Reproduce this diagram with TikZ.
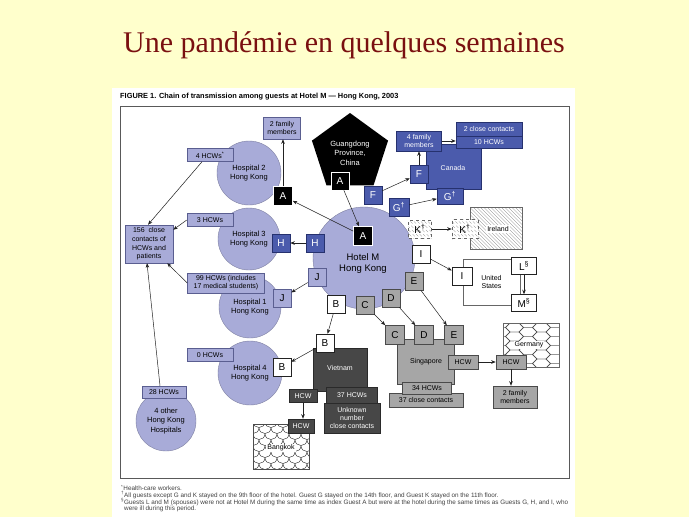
\documentclass[tikz,border=0pt]{standalone}
\usepackage{fontspec}
\setmainfont{Liberation Serif}
\setsansfont{Liberation Sans}
\usetikzlibrary{shapes.geometric,arrows.meta,calc}
\definecolor{bgy}{HTML}{FFFFCC}
\definecolor{titlered}{HTML}{7A1010}
\definecolor{lp}{HTML}{A8ABD8}
\definecolor{lpb}{HTML}{5A5E90}
\definecolor{bl}{HTML}{4B5BAC}
\definecolor{blb}{HTML}{26316E}
\definecolor{gr}{HTML}{A6A6A6}
\definecolor{grb}{HTML}{4A4A4A}
\definecolor{dg}{HTML}{474747}
\definecolor{dgb}{HTML}{2A2A2A}
\definecolor{ln}{HTML}{222222}
\tikzset{
 bx/.style={line width=0.5pt, inner sep=0pt, align=center, font=\fontsize{7}{7.8}\selectfont\sffamily},
 pb/.style={bx, draw=lpb, fill=lp},
 bb/.style={bx, draw=blb, fill=bl, text=white},
 gb/.style={bx, draw=grb, fill=gr},
 db/.style={bx, draw=dgb, fill=dg, text=white},
 wb/.style={bx, draw=ln, fill=white},
 kb/.style={bx, draw=white, fill=black, text=white},
 ltr/.style={minimum width=18pt, minimum height=18pt, font=\fontsize{10}{10}\selectfont\sffamily},
 circ/.style={circle, fill=lp, draw=lp!75!black, line width=0.4pt, inner sep=0pt, align=center, font=\fontsize{7.5}{8.8}\selectfont\sffamily},
 arr/.style={-{Stealth[length=4.5pt,width=3.5pt]}, line width=0.5pt, draw=ln},
 lbl/.style={inner sep=1pt, align=center, font=\fontsize{7}{7.8}\selectfont\sffamily},
 fn/.style={anchor=west, inner sep=0pt, text=black!75, font=\fontsize{6.35}{7}\selectfont\sffamily},
 hatch/.style={path picture={\foreach \k in {-100,-96.5,...,100}{\draw[black!55, line width=0.35pt] ($(path picture bounding box.center)+(\k-50,-50)$) -- ++(100,100);}}},
 scales/.style={path picture={\foreach \j in {0,...,8}{\pgfmathsetmacro{\off}{mod(\j,2)*6}\foreach \i in {-1,...,6}{\draw[black!85, line width=0.4pt] ($(path picture bounding box.north west)+(\i*12+\off,\j*6-3)$) .. controls +(0,8) and +(0,8) .. ++(12,0);}}}},
 honey/.style={path picture={\foreach \i in {0,...,6}{\pgfmathsetmacro{\off}{mod(\i,2)*4.5}\foreach \j in {-1,...,6}{\draw[black!70, line width=0.4pt] ($(path picture bounding box.north west)+(\i*13.5-2,\j*9+\off)$) +(-9,0) -- +(-4.5,-4.5) -- +(4.5,-4.5) -- +(9,0) -- +(4.5,4.5) -- +(-4.5,4.5) -- cycle;}}}}
}
\begin{document}
\begin{tikzpicture}[x=1pt,y=-1pt]
\useasboundingbox (0,0) rectangle (689,517);
\fill[bgy] (0,0) rectangle (689,517);
\fill[white] (112,88) rectangle (575,517);
\draw[black!65, line width=0.6pt] (120,106) rectangle (569,478);

\node[font=\fontsize{30}{32}\selectfont, text=titlered] (title) at (344,45) {Une pandémie en quelques semaines};
\node[anchor=west, inner sep=0pt, font=\bfseries\fontsize{7.4}{8}\selectfont\sffamily] (head) at (120,97) {FIGURE 1. Chain of transmission among guests at Hotel M — Hong Kong, 2003};

% circles
\node[circ, minimum size=64pt] (h2) at (249,173) {Hospital 2\\Hong Kong};
\node[circ, minimum size=62pt] (h3) at (249,239) {Hospital 3\\Hong Kong};
\node[circ, minimum size=62pt] (h1) at (250,307) {Hospital 1\\Hong Kong};
\node[circ, minimum size=64pt] (h4) at (250,373) {Hospital 4\\Hong Kong};
\node[circ, minimum size=60pt, font=\fontsize{7.5}{9.5}\selectfont\sffamily] (hoth) at (166,421) {4 other\\Hong Kong\\Hospitals};
\node[circ, minimum size=102pt] (hotel) at (364,258) {};
\node[lbl, font=\fontsize{9.5}{11}\selectfont\sffamily] (hoteltxt) at (363,264) {Hotel M\\Hong Kong};

% pentagon
\node[regular polygon, regular polygon sides=5, minimum size=80pt, fill=black, inner sep=0pt, text=white, align=center, font=\fontsize{7.5}{9.5}\selectfont\sffamily] (gd) at (350,153) {Guangdong\\Province,\\China};

% purple boxes
\node[pb, minimum width=37pt, minimum height=22pt] (fam2) at (282,128) {2 family\\members};
\node[pb, minimum width=46pt, minimum height=13pt] (hcw4) at (210,155) {4 HCWs\textsuperscript{*}};
\node[pb, minimum width=46pt, minimum height=13pt] (hcw3) at (210,220) {3 HCWs};
\node[pb, minimum width=48pt, minimum height=38pt, font=\fontsize{7}{8.6}\selectfont\sffamily] (c156) at (149,244) {156\ \ close\\contacts of\\HCWs and\\patients};
\node[pb, minimum width=77pt, minimum height=20pt] (hcw99) at (226,283) {99 HCWs (includes\\17 medical students)};
\node[pb, minimum width=46pt, minimum height=13pt] (hcw0) at (210,355) {0 HCWs};
\node[pb, minimum width=44pt, minimum height=12pt] (hcw28) at (164,392) {28 HCWs};

% Canada
\node[bb, minimum width=55pt, minimum height=45pt] (ca) at (454,167) {};
\node[lbl, text=white] (catxt) at (453,168) {Canada};
\node[bb, minimum width=45pt, minimum height=20pt] (fam4) at (419,141) {4 family\\members};
\node[bb, minimum width=66pt, minimum height=14pt] (cc2) at (489,129) {2 close contacts};
\node[bb, minimum width=66pt, minimum height=12pt] (hcw10) at (489,142) {10 HCWs};
\node[bb, ltr] (Fca) at (419,174) {F};
\node[bb, ltr, minimum width=26pt, minimum height=16pt] (Gca) at (450,196) {G\textsuperscript{†}};

% Ireland
\node[bx, fill=white, draw=black!60, hatch, minimum width=52pt, minimum height=42pt] (ie) at (496,228) {};
\node[lbl, fill=white] (ietxt) at (498,229) {Ireland};
\node[bx, ltr, fill=white, draw=black!60, dashed, hatch, minimum width=26pt, minimum height=19pt] (Kie) at (465,229) {K\textsuperscript{†}};

% United States
\node[bx, draw=black!60, minimum width=57pt, minimum height=46pt] (us) at (491.5,282) {United\\States};
\node[wb, ltr, minimum width=20pt] (Ius) at (462,276) {I};
\node[wb, ltr, minimum width=25pt, minimum height=17pt] (Lus) at (524,266) {L\textsuperscript{§}};
\node[wb, ltr, minimum width=25pt, minimum height=17pt] (Mus) at (524,303) {M\textsuperscript{§}};

% Singapore
\node[gb, minimum width=57pt, minimum height=45pt] (sg) at (426,362) {Singapore};
\node[gb, minimum width=74pt, minimum height=14pt] (cc37) at (426,400) {37 close contacts};
\node[gb, minimum width=49pt, minimum height=12pt] (hcw34) at (427,388) {34 HCWs};
\node[gb, minimum width=30pt, minimum height=14pt] (hcwsg) at (463,362) {HCW};
\node[gb, ltr, minimum width=19pt, minimum height=19pt] (Csg) at (395,335) {C};
\node[gb, ltr, minimum width=19pt, minimum height=19pt] (Dsg) at (424,335) {D};
\node[gb, ltr, minimum width=19pt, minimum height=19pt] (Esg) at (454,335) {E};

% Germany
\node[bx, fill=white, draw=black!60, honey, minimum width=56pt, minimum height=44pt] (de) at (531,345) {};
\node[lbl, fill=white] (detxt) at (529,345) {Germany};
\node[gb, minimum width=30pt, minimum height=14pt] (hcwde) at (511,362) {HCW};
\node[gb, minimum width=44pt, minimum height=22pt] (fam2de) at (515,397) {2 family\\members};

% Vietnam
\node[db, minimum width=54pt, minimum height=43pt] (vn) at (340,370) {};
\node[lbl, text=white] (vntxt) at (340,368) {Vietnam};
\node[db, minimum width=51pt, minimum height=16pt] (hcw37) at (352,395) {37 HCWs};
\node[db, minimum width=56pt, minimum height=30pt, font=\fontsize{7}{8.4}\selectfont\sffamily] (unk) at (352,418) {Unknown\\number\\close contacts};
\node[db, minimum width=28pt, minimum height=13pt] (hcwvn) at (303,396) {HCW};

% Bangkok
\node[bx, fill=white, draw=black!70, scales, minimum width=56pt, minimum height=45pt] (bk) at (281,447) {};
\node[lbl, fill=white] (bktxt) at (281,448) {Bangkok};
\node[db, minimum width=26pt, minimum height=14pt] (hcwbk) at (301,426) {HCW};

% letter boxes
\node[kb, ltr, minimum size=19pt] (Ah2) at (283,196) {A};
\node[kb, ltr] (Apg) at (340,181) {A};
\node[kb, ltr, minimum size=19pt] (Ahm) at (363,236) {A};
\node[bb, ltr] (Fhm) at (373,195) {F};
\node[bb, ltr, minimum width=20pt] (Ghm) at (399,207) {G\textsuperscript{†}};
\node[bx, ltr, fill=white, draw=black!60, dashed, hatch, minimum width=23pt] (Khm) at (420,229) {K\textsuperscript{†}};
\node[wb, ltr] (Ihm) at (421,254) {I};
\node[gb, ltr] (Ehm) at (414,281) {E};
\node[gb, ltr] (Dhm) at (391,298) {D};
\node[gb, ltr] (Chm) at (365,305) {C};
\node[wb, ltr] (Bhm) at (336,304) {B};
\node[pb, ltr] (Jhm) at (317,277) {J};
\node[bb, ltr] (Hhm) at (315,243) {H};
\node[bb, ltr] (Hh3) at (281,243) {H};
\node[pb, ltr] (Jh1) at (282,298) {J};
\node[wb, ltr] (Bh4) at (282,367) {B};
\node[wb, ltr] (Bvn) at (325,343) {B};

% connectors
\draw[arr] (Ah2.north) -- (Ah2.north |- fam2.south);
\draw[arr] ([xshift=-8pt]hcw4.south) -- ([xshift=-1pt]c156.north);
\draw[arr] (hcw3.west) -- ([yshift=-5pt]c156.north east);
\draw[arr] (hcw99.west) -- ([xshift=-6pt]c156.south east);
\draw[arr] ([xshift=-4pt]hcw28.north) -- ([xshift=-2pt]c156.south);
\draw[arr] (Apg) -- (Ahm);
\draw[arr] (Ahm) -- (Ah2);
\draw[arr] (Hhm) -- (Hh3);
\draw[arr] (Jhm) -- (Jh1);
\draw[arr] (Bhm) -- (Bvn);
\draw[arr] (Bvn) -- (Bh4);
\draw[arr] (Fhm) -- (Fca);
\draw[arr] (Ghm) -- (Gca);
\draw[arr] (Fca.north) -- (Fca.north |- fam4.south);
\draw[arr] (fam4.east) -- (fam4.east -| cc2.west);
\draw[arr] (Khm) -- (Kie);
\draw[arr] (Ihm) -- (Ius);
\draw[arr] (Lus.south) -- (Mus.north);
\draw[arr] (Chm) -- (Csg);
\draw[arr] (Dhm) -- (Dsg);
\draw[arr] (Ehm) -- (Esg);
\draw[arr] (hcwsg.east) -- (hcwde.west);
\draw[arr] (hcwde.south) -- (hcwde.south |- fam2de.north);
\draw[arr] (hcwvn.south) -- (hcwvn.south |- hcwbk.north);

% footnotes
\node[fn] (fn1) at (121,488) {\textsuperscript{*}Health-care workers.};
\node[fn] (fn2) at (121,495) {\textsuperscript{†}All guests except G and K stayed on the 9th floor of the hotel. Guest G stayed on the 14th floor, and Guest K stayed on the 11th floor.};
\node[fn] (fn3) at (121,502) {\textsuperscript{§}Guests L and M (spouses) were not at Hotel M during the same time as index Guest A but were at the hotel during the same times as Guests G, H, and I, who};
\node[fn] (fn4) at (124,509) {were ill during this period.};
\end{tikzpicture}
\end{document}
